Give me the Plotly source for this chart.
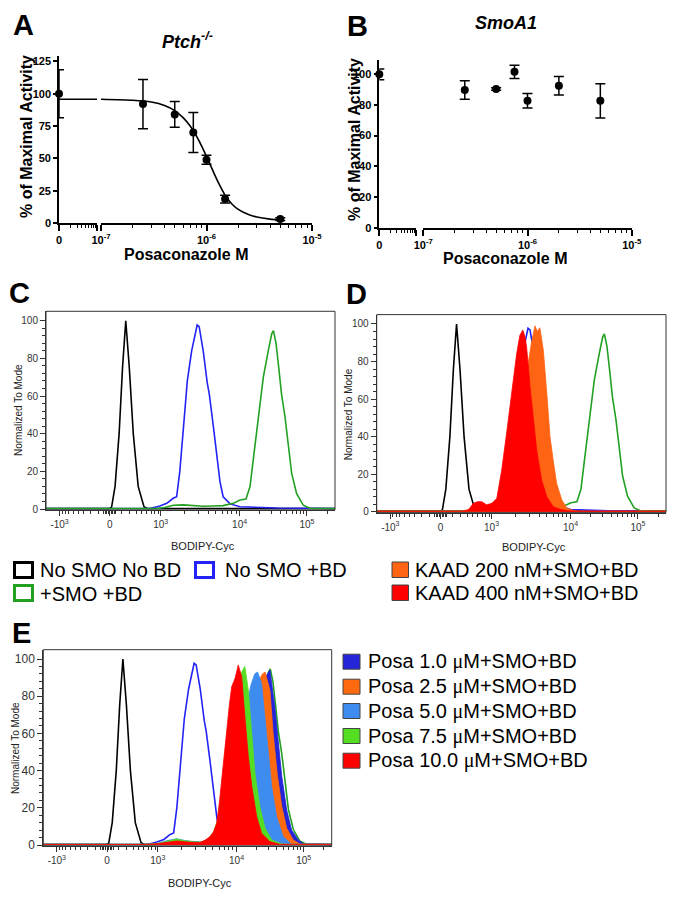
import math
import plotly.graph_objects as go

W, H = 678, 897
FONT = "Liberation Sans, Arial, Helvetica, sans-serif"

# ---------------- Panel A : Ptch-/- dose response ----------------
a_conc = [0, 2.5e-7, 5e-7, 7.5e-7, 1e-6, 1.5e-6, 5e-6]
a_pct = [100, 92, 84, 70, 49, 18.5, 3]
a_sem = [18.5, 19, 10, 15.5, 3.5, 3, 1]
a_fit_conc = [1e-7, 2e-7, 3e-7, 4e-7, 5e-7, 6e-7, 7e-7, 8e-7, 9e-7, 1e-6,
              1.1e-6, 1.2e-6, 1.3e-6, 1.5e-6, 1.75e-6, 2e-6, 2.5e-6, 3e-6, 4e-6, 5e-6]
a_fit_pct = [95.8, 95.0, 93.6, 91.0, 87.0, 81.5, 75.0, 67.5, 59.5, 51.5,
             44.0, 37.0, 31.0, 21.5, 14.5, 10.5, 6.5, 4.6, 3.0, 2.4]
a_yticks = [0, 25, 50, 75, 100, 125]

# ---------------- Panel B : SmoA1 ----------------
b_conc = [0, 2.5e-7, 5e-7, 7.5e-7, 1e-6, 2e-6, 5e-6]
b_pct = [100, 89.7, 90.4, 101.6, 82.7, 92.5, 82.7]
b_sem = [3.5, 6, 0.8, 4.3, 4.7, 6, 11.2]
b_yticks = [0, 20, 40, 60, 80, 100]

log_tickvals = [1e-7, 1e-6, 1e-5]
log_ticktext = ["10<sup>-7</sup>", "10<sup>-6</sup>", "10<sup>-5</sup>"]
zero_label = "0"
seg_range = [0, 1]

# ---------------- Flow histograms (x: position on biexponential display, 0-100) ----------------
bd_ticktext = ["-10<sup>3</sup>", "0", "10<sup>3</sup>", "10<sup>4</sup>", "10<sup>5</sup>"]
bd_tickpos = [4.7, 22.1, 39.7, 67.0, 90.3]
hist_yticks = [0, 20, 40, 60, 80, 100]

noSMO_noBD_x = [0, 22.0, 22.7, 23.9, 25.3, 26.5, 27.6, 28.8, 30.2, 31.9, 33.9, 35.0, 100]
noSMO_noBD_y = [0.3, 0.3, 1, 12, 40, 75.6, 100, 75.6, 40, 12, 1.2, 0.3, 0.3]

noSMO_BD_x = [0, 36.0, 39.4, 41.8, 44.0, 45.2, 46.3, 47.3, 48.9, 50.4, 52.3, 53.0, 54.4, 55.8,
              56.5, 57.9, 59.1, 60.2, 61.3, 63.7, 67.1, 72, 80, 100]
noSMO_BD_y = [0.3, 0.3, 1.6, 3, 5.7, 6.5, 20, 40, 68, 84, 97.7, 96.8, 84, 67,
              61, 44, 28, 14.5, 6.5, 2.7, 1.2, 0.8, 0.5, 0.3]

SMO_BD_x = [0, 38.5, 41, 44.1, 47.5, 51.0, 54.4, 57.9, 61.3, 64.8, 67.1, 69.2, 70.6, 71.7, 73.5,
            75.2, 76.9, 78.1, 78.7, 79.6, 80.4, 81.5, 82.7, 83.8, 85.0, 86.7, 89.0, 91.3, 100]
SMO_BD_y = [0.3, 0.3, 0.8, 2.0, 2.2, 1.8, 1.5, 1.6, 1.8, 3.0, 4.8, 5.3, 11.9, 26, 49,
            70, 84, 93, 94.7, 88, 77, 61, 49, 33, 19, 8.3, 2, 0.4, 0.3]

kaad200_x = [0, 30, 32, 34, 36, 38, 40, 42, 44, 46, 48, 50, 52, 53.5, 54.7, 55.5, 56.4,
             57.6, 58.8, 59.9, 61.0, 62.2, 64.0, 65.7, 68, 70, 100]
kaad200_y = [0.3, 0.3, 1.5, 3.5, 4, 3.5, 4, 6, 12, 22, 38, 57, 76, 90, 99, 96, 98,
             86, 63, 40, 27.5, 15, 6.2, 2, 0.6, 0.3, 0.3]

kaad400_x = [0, 29.5, 31.7, 33.4, 35.1, 36.5, 38.0, 39.8, 41.5, 43.2, 44.9, 46.7, 48.4, 49.5,
             50.5, 51.3, 51.8, 53.0, 54.1, 55.3, 57.0, 58.8, 61.0, 63.5, 66, 70, 100]
kaad400_y = [0.3, 0.3, 0.9, 4.5, 5.4, 5.2, 3.6, 4.5, 7, 22, 41.8, 64.8, 84.4, 94,
             96.8, 93, 87.9, 66.6, 48.9, 32.9, 16.9, 8, 2.7, 1.2, 0.5, 0.3, 0.3]

posa10_x = [0, 36, 40, 43, 46.3, 50, 54.3, 56, 57.8, 59, 60.1, 61.0, 61.9, 62.8, 63.6, 64.5,
            65.3, 66.5, 67.6, 68.8, 69.9, 71.1, 72.3, 74.0, 75.7, 78.6, 82, 100]
posa10_y = [0.3, 0.3, 0.8, 1.5, 2.2, 1.6, 1.3, 2.5, 4.5, 7, 11.6, 22, 36, 50, 63.6, 75,
            85, 89.6, 96.8, 90.5, 69, 47.5, 31.4, 15.2, 6.3, 1.8, 0.4, 0.3]

posa7_5_x = [0, 36, 40, 43, 46.3, 50, 54.3, 57, 59, 61, 63, 65, 67, 68.8, 69.9, 71.1, 72.3,
             73.4, 75.1, 76.9, 79.2, 83, 100]
posa7_5_y = [0.3, 0.3, 1, 2.2, 3.2, 2, 1.4, 3, 7, 16, 35, 60, 82, 93, 96, 83, 60,
             38.5, 20.6, 9, 2.7, 0.4, 0.3]

posa5_x = [0, 36, 40, 43, 46.3, 50, 54.3, 58, 61, 64, 66, 68, 70, 72, 73.3, 74.3, 75.7, 76.9,
           78.0, 79.2, 80.9, 83.2, 86, 100]
posa5_y = [0.3, 0.3, 1, 2.4, 3.4, 2.1, 1.4, 3, 8, 20, 35, 55, 72, 86, 92, 93, 86.9, 69,
           49.3, 31.4, 15.2, 4.5, 0.5, 0.3]

posa2_5_x = [0, 36, 40, 43, 46.3, 50, 54.3, 58, 61, 64, 67, 70, 72.5, 74.5, 76, 76.9, 78.6,
             79.7, 81.1, 82.7, 84.4, 86.7, 89, 100]
posa2_5_y = [0.3, 0.3, 0.8, 2, 2.8, 1.8, 1.2, 2.5, 6, 14, 30, 55, 75, 88, 92, 93, 83,
             60, 38.5, 20.6, 9, 2.7, 0.5, 0.3]

posa1_x = [0, 36, 40, 43, 46.3, 50, 54.3, 58, 61, 64, 67, 70, 73, 75.5, 77.3, 78.6, 80.3,
           81.5, 82.7, 84.4, 86.1, 88.4, 90.5, 100]
posa1_y = [0.3, 0.3, 0.8, 2, 2.8, 1.8, 1.2, 2.2, 5, 12, 25, 45, 66, 82, 91, 94, 74,
           54.7, 36.7, 18.8, 8, 2.7, 0.5, 0.3]

outline_names = ["No SMO No BD", "No SMO +BD", "+SMO +BD"]
outline_colors = ["#000000", "#2323f5", "#22a022"]
kaad_names = ["KAAD 200 nM+SMO+BD", "KAAD 400 nM+SMO+BD"]
kaad_colors = ["#ff6414", "#ff0000"]
MU = '<span style="font-family:Liberation Serif, serif">μ</span>'
posa_names = ["Posa 1.0 " + MU + "M+SMO+BD", "Posa 2.5 " + MU + "M+SMO+BD",
              "Posa 5.0 " + MU + "M+SMO+BD", "Posa 7.5 " + MU + "M+SMO+BD",
              "Posa 10.0 " + MU + "M+SMO+BD"]
posa_colors = ["#2424d8", "#ff6a10", "#3f8cf0", "#55dd22", "#ff0000"]


# ---------------- helpers ----------------
def fx(p):
    return p / W


def fy(p):
    return 1 - p / H


def err(arr):
    return dict(type="data", array=arr, visible=True, color="black", thickness=1.5, width=5)


fig = go.Figure()

# ---- Panel A traces ----
a_zero = [i for i, c in enumerate(a_conc) if c == 0]
a_pos = [i for i, c in enumerate(a_conc) if c > 0]
fig.add_trace(go.Scatter(x=seg_range, y=[a_fit_pct[0]] * 2, xaxis="x", yaxis="y", mode="lines",
                         line=dict(color="black", width=1.6), cliponaxis=False))
fig.add_trace(go.Scatter(x=a_fit_conc, y=a_fit_pct, xaxis="x2", yaxis="y", mode="lines",
                         line=dict(color="black", width=1.6, shape="spline", smoothing=0.6)))
fig.add_trace(go.Scatter(x=[a_conc[i] for i in a_zero], y=[a_pct[i] for i in a_zero],
                         error_y=err([a_sem[i] for i in a_zero]), mode="markers",
                         marker=dict(size=8, color="black"), xaxis="x", yaxis="y", cliponaxis=False))
fig.add_trace(go.Scatter(x=[a_conc[i] for i in a_pos], y=[a_pct[i] for i in a_pos],
                         error_y=err([a_sem[i] for i in a_pos]), mode="markers",
                         marker=dict(size=8, color="black"), xaxis="x2", yaxis="y", cliponaxis=False))

# ---- Panel B traces ----
b_zero = [i for i, c in enumerate(b_conc) if c == 0]
b_pos = [i for i, c in enumerate(b_conc) if c > 0]
fig.add_trace(go.Scatter(x=[b_conc[i] for i in b_zero], y=[b_pct[i] for i in b_zero],
                         error_y=err([b_sem[i] for i in b_zero]), mode="markers",
                         marker=dict(size=8, color="black"), xaxis="x3", yaxis="y2", cliponaxis=False))
fig.add_trace(go.Scatter(x=[b_conc[i] for i in b_pos], y=[b_pct[i] for i in b_pos],
                         error_y=err([b_sem[i] for i in b_pos]), mode="markers",
                         marker=dict(size=8, color="black"), xaxis="x4", yaxis="y2", cliponaxis=False))


def outline(x, y, color, xa, ya):
    fig.add_trace(go.Scatter(x=x, y=y, mode="lines", line=dict(color=color, width=1.6),
                             xaxis=xa, yaxis=ya))


def filled(x, y, color, xa, ya):
    fig.add_trace(go.Scatter(x=x, y=y, mode="lines", line=dict(color=color, width=0.8),
                             fill="tozeroy", fillcolor=color, xaxis=xa, yaxis=ya))


outlines = [(noSMO_noBD_x, noSMO_noBD_y), (noSMO_BD_x, noSMO_BD_y), (SMO_BD_x, SMO_BD_y)]
# Panel C
for (x, y), c in zip(outlines, outline_colors):
    outline(x, y, c, "x5", "y3")
# Panel D
for (x, y), c in zip(outlines, outline_colors):
    outline(x, y, c, "x6", "y4")
for (x, y), c in zip([(kaad200_x, kaad200_y), (kaad400_x, kaad400_y)], kaad_colors):
    filled(x, y, c, "x6", "y4")
# Panel E
for (x, y), c in zip(outlines, outline_colors):
    outline(x, y, c, "x7", "y5")
posa_series = [(posa1_x, posa1_y), (posa2_5_x, posa2_5_y), (posa5_x, posa5_y),
               (posa7_5_x, posa7_5_y), (posa10_x, posa10_y)]
for (x, y), c in zip(posa_series, posa_colors):
    filled(x, y, c, "x7", "y5")

# ---------------- axes ----------------
bold11 = dict(family=FONT, size=11, color="black", weight="bold")
ab_axis = dict(showline=True, linecolor="black", linewidth=1.6, ticks="outside", tickcolor="black",
               tickwidth=1.5, showgrid=False, zeroline=False, automargin=False, tickfont=bold11)

seg_minor = [math.log10(m) for m in range(2, 10)]
log_minor = [m * 10 ** k for k in (-7, -6) for m in range(2, 10)]


def seg_axis(d0, d1, anchor):
    return dict(ab_axis, domain=[fx(d0), fx(d1)], range=seg_range, anchor=anchor,
                tickmode="array", tickvals=seg_range, ticktext=[zero_label, ""], ticklen=6,
                minor=dict(tickmode="array", tickvals=seg_minor, ticks="outside", ticklen=3,
                           tickwidth=1, tickcolor="black"))


def log_axis(d0, d1, anchor):
    return dict(ab_axis, type="log", domain=[fx(d0), fx(d1)], range=[-7, -5], anchor=anchor,
                tickmode="array", tickvals=log_tickvals, ticktext=log_ticktext, ticklen=6,
                minor=dict(tickmode="array", tickvals=log_minor, ticks="outside", ticklen=3,
                           tickwidth=1, tickcolor="black"))


# biexponential display minor ticks
p_m, p_0, p_3, p_4, p_5 = bd_tickpos
lin_frac = [0.23, 0.39, 0.52, 0.62, 0.72, 0.82, 0.88, 0.95]
near0 = [0.03, 0.06, 0.09, 0.12]
log_frac = [math.log10(m) for m in range(2, 10)]
bd_minor = ([p_0 - f * (p_0 - p_m) for f in lin_frac]
            + [p_0 + s * f * (p_3 - p_0) for f in near0 for s in (-1, 1)]
            + [p_0 + f * (p_3 - p_0) for f in lin_frac]
            + [p_3 + f * (p_4 - p_3) for f in log_frac]
            + [p_4 + f * (p_5 - p_4) for f in log_frac]
            + [p_5 + f * (p_5 - p_4) for f in log_frac if p_5 + f * (p_5 - p_4) < 100])
hist_yminor = [v for v in range(0, 101, 4) if v % 20 != 0]


def flow_x(d0, d1, anchor):
    return dict(domain=[fx(d0), fx(d1)], range=[0, 100], anchor=anchor, showline=True,
                linecolor="#333333", linewidth=1, ticks="outside", tickcolor="#333333", ticklen=5,
                tickwidth=1, showgrid=False, zeroline=False, automargin=False,
                tickmode="array", tickvals=bd_tickpos, ticktext=bd_ticktext,
                tickfont=dict(family=FONT, size=10, color="#333333"),
                minor=dict(tickmode="array", tickvals=bd_minor, ticks="outside", ticklen=3,
                           tickwidth=1, tickcolor="#333333"))


def flow_y(p0, p100, anchor, fsize):
    s = (p0 - p100) / 100.0
    return dict(domain=[fy(p0 + 0.5 * s), fy(p100 - 5 * s)], range=[-0.5, 105], anchor=anchor,
                showline=True, linecolor="#333333", linewidth=1, ticks="outside",
                tickcolor="#333333", ticklen=5, tickwidth=1, showgrid=False, zeroline=False,
                automargin=False, tickmode="array", tickvals=hist_yticks,
                tickfont=dict(family=FONT, size=fsize, color="#333333"),
                minor=dict(tickmode="array", tickvals=hist_yminor, ticks="outside", ticklen=3,
                           tickwidth=1, tickcolor="#333333"))


layout = dict(
    width=W, height=H, margin=dict(l=0, r=0, t=0, b=0, pad=0), template="none",
    paper_bgcolor="white", plot_bgcolor="rgba(0,0,0,0)", showlegend=False,
    font=dict(family=FONT),
    xaxis=seg_axis(59, 97, "y"),
    xaxis2=log_axis(101, 312, "y"),
    yaxis=dict(ab_axis, domain=[fy(223), fy(56.3)], range=[0, 129], anchor="x",
               tickmode="array", tickvals=a_yticks, ticklen=4),
    xaxis3=seg_axis(379.3, 416, "y2"),
    xaxis4=log_axis(423.3, 631.7, "y2"),
    yaxis2=dict(ab_axis, domain=[fy(227.7), fy(60)], range=[0, 109.3], anchor="x3",
                tickmode="array", tickvals=b_yticks, ticklen=4),
    xaxis5=flow_x(46, 335, "y3"),
    yaxis3=flow_y(509, 320.7, "x5", 10),
    xaxis6=flow_x(376.7, 666, "y4"),
    yaxis4=flow_y(511.7, 324, "x6", 10),
    xaxis7=flow_x(43.3, 331.7, "y5"),
    yaxis5=flow_y(845, 659, "x7", 12),
)
fig.update_layout(**layout)

# ---------------- annotations ----------------
ann = []


def text(t, x, y, size, color="black", angle=0, xanchor="center", bold=False, italic=False):
    s = t
    if italic:
        s = "<i>" + s + "</i>"
    if bold:
        s = "<b>" + s + "</b>"
    ann.append(dict(text=s, x=fx(x), y=fy(y), xref="paper", yref="paper", showarrow=False,
                    xanchor=xanchor, yanchor="middle", textangle=angle,
                    font=dict(family=FONT, size=size, color=color)))


for lab, x, y in [("A", 23, 25), ("B", 357, 26), ("C", 19.5, 293), ("D", 356, 294), ("E", 21, 632.5)]:
    text(lab, x, y, 29, bold=True)

text("Ptch<sup>-/-</sup>", 187, 40, 18, bold=True, italic=True)
text("SmoA1", 506, 23, 18, bold=True, italic=True)
text("% of Maximal Activity", 26, 137, 16, angle=-90, bold=True)
text("% of Maximal Activity", 354, 140, 16, angle=-90, bold=True)
text("Posaconazole M", 185.5, 254.5, 16, bold=True)
text("Posaconazole M", 505, 258, 16, bold=True)

for x, y in [(18, 410), (348.3, 414), (15, 748)]:
    text("Normalized To Mode", x, y, 10, color="#222222", angle=-90)
for x, y in [(203, 546), (534, 546.7), (200, 883.3)]:
    text("BODIPY-Cyc", x, y, 11, color="#222222")

# ---------------- frames + legends (shapes + text) ----------------
shapes = []
for xa, ya in [("x5", "y3"), ("x6", "y4"), ("x7", "y5")]:
    shapes.append(dict(type="rect", xref=xa + " domain", yref=ya + " domain", x0=0, x1=1, y0=0, y1=1,
                       line=dict(color="#333333", width=1), fillcolor="rgba(0,0,0,0)"))


def box(x0, y0, x1, y1, fill, line, lw):
    shapes.append(dict(type="rect", xref="paper", yref="paper", x0=fx(x0), x1=fx(x1),
                       y0=fy(y1), y1=fy(y0), fillcolor=fill, line=dict(color=line, width=lw)))


c_leg = [(14.5, 562.5, 37.5, 570), (195.5, 562.5, 223, 570), (14.5, 585.5, 37.5, 593.5)]
for name, col, (bx, by, tx, ty) in zip(outline_names, outline_colors, c_leg):
    box(bx, by, bx + 18, by + 15, "white", col, 3)
    text(name, tx, ty, 20, xanchor="left")

d_leg = [(392, 562, 413, 569.5), (392, 585, 413, 592.5)]
for name, col, (bx, by, tx, ty) in zip(kaad_names, kaad_colors, d_leg):
    box(bx, by, bx + 16.5, by + 15.5, col, "#444444", 1)
    text(name, tx, ty, 20, xanchor="left")

e_rows = [661.7, 686.7, 711, 736, 760.7]
for name, col, ry in zip(posa_names, posa_colors, e_rows):
    box(343, ry - 7.5, 360, ry + 7.5, col, "#444444", 1)
    text(name, 366, ry, 20, xanchor="left")

fig.update_layout(annotations=ann, shapes=shapes)
fig.write_html("out.html", config={"displayModeBar": False},
               post_script="document.body.style.margin='0';document.body.style.padding='0';")
